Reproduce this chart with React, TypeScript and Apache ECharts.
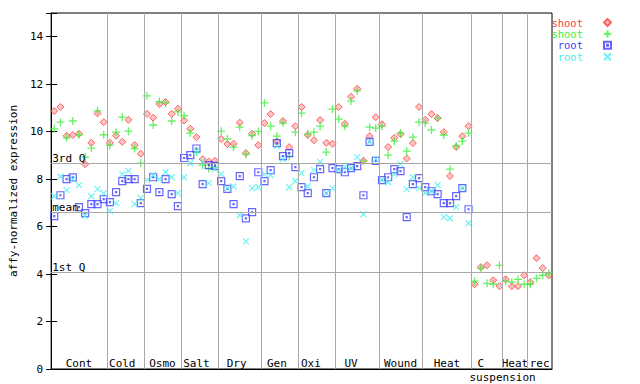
import React, { useEffect, useRef } from 'react';
import * as echarts from 'echarts';

// ---- data ----
const shootRep1 = [
  10.87, 11.04, 9.83, 9.86, 9.91, 8.63, 9.53, 10.77, 10.40,
  9.53, 9.83, 9.57, 10.50, 9.43, 9.07,
  10.75, 10.59, 11.16, 11.25, 10.75, 10.97,
  10.47, 10.12, 9.77, 8.84, 8.74, 8.77,
  9.69, 9.48, 9.49, 10.38, 9.10, 9.91, 9.43,
  10.36, 10.74, 9.59, 10.45, 9.35, 10.23,
  11.04, 9.86, 9.64, 10.49, 9.53, 9.49,
  11.04, 10.33, 11.47, 11.81, 8.77, 9.81, 10.61,
  10.31, 9.35, 9.74, 9.89, 8.87, 9.52, 11.04,
  10.50, 10.74, 10.57, 9.98, 8.13, 9.35, 9.81, 10.23,
  3.57, 4.29, 4.37, 3.74, 3.49,
  3.78, 3.49, 3.49, 3.95,
  3.66, 4.67, 4.25, 3.95,
];
const shootRep2 = [
  10.12, 10.40, 9.74, 10.45, 9.87, 8.93, 9.31, 10.88, 9.87,
  9.43, 9.98, 10.61, 10.02, 9.29, 8.67,
  11.51, 10.28, 11.26, 11.21, 10.45, 10.83,
  10.67, 9.94, 9.14, 8.59, 8.45, 8.51,
  10.02, 9.69, 9.34, 10.19, 9.05, 9.83, 10.01,
  11.21, 10.23, 9.81, 10.36, 8.96, 9.98,
  10.78, 9.90, 9.98, 10.23, 9.14, 10.95,
  10.53, 10.23, 11.29, 11.72, 8.77, 10.19, 10.15,
  10.23, 9.01, 9.60, 9.94, 9.18, 9.77, 10.40,
  10.36, 10.07, 10.57, 9.86, 8.42, 9.40, 9.60, 9.94,
  3.70, 4.25, 3.61, 3.57, 4.37,
  3.70, 3.66, 3.78, 3.57,
  3.57, 3.82, 3.95, 4.03,
];
const rootRep1 = [
  6.44, 7.32, 8.00, 8.07, 6.82, 6.57, 6.95, 6.95, 7.16,
  7.03, 7.45, 7.92, 8.00, 8.00, 6.99,
  7.59, 8.08, 7.45, 8.00, 7.37, 6.86,
  8.89, 9.01, 9.29, 7.79, 8.59, 8.56,
  7.92, 7.59, 6.95, 8.13, 6.35, 6.61, 8.29,
  7.92, 8.38, 9.52, 8.97, 9.10, 8.51,
  7.66, 7.41, 8.08, 8.42, 7.41, 8.46,
  8.42, 8.29, 8.46, 8.55, 7.32, 9.57, 8.77,
  7.96, 8.08, 8.42, 8.34, 6.40, 7.79, 8.04,
  7.66, 7.49, 7.37, 6.99, 6.99, 7.28, 7.62, 6.73,
];
const rootRep2 = [
  7.28, 8.11, 7.54, 8.00, 7.75, 6.45, 7.28, 7.58, 7.41,
  6.65, 6.99, 8.21, 8.35, 6.95, 7.21,
  7.97, 8.17, 8.00, 8.29, 8.08, 7.41,
  8.08, 8.67, 9.19, 8.74, 7.83, 8.42,
  8.21, 7.62, 7.69, 6.48, 5.38, 7.62, 7.66,
  8.21, 8.17, 9.39, 8.84, 7.66, 7.92,
  8.25, 7.70, 8.38, 8.72, 7.41, 7.62,
  8.38, 8.53, 8.46, 8.93, 6.52, 9.57, 8.84,
  7.96, 7.87, 8.21, 8.63, 7.58, 8.08, 7.62,
  7.41, 7.49, 7.75, 6.40, 6.35, 6.82, 7.62, 6.14,
];
const sampleCount = 81;
const groupBounds = [9, 15, 21, 27, 34, 40, 46, 53, 60, 68, 73, 77];
const groupLabelPos = [4.5, 11.5, 18, 23.5, 30, 36.5, 42, 48.5, 56.5, 64, 69.5, 75, 79];
const groupLabels = ['Cont', 'Cold', 'Osmo', 'Salt', 'Dry', 'Gen', 'Oxi', 'UV', 'Wound', 'Heat', 'C', 'Heat', 'rec'];
const subLabelPos = [73];
const subLabels = ['suspension'];
const refNames = ['3rd Q', 'mean', '1st Q'];
const refValues = [8.67, 6.61, 4.08];
const seriesNames = ['shoot1', 'shoot2', 'root1', 'root2'];

const FONT = 'DejaVu Sans Mono';
const RED = '#ff4040';
const GREEN = '#3cf03c';
const BLUE = '#4040ff';
const CYAN = '#48f0f0';

const PLUS = 'path://M4,0L4,8M0,4L8,4';
const SQDOT = 'path://M0,0L7,0L7,7L0,7ZM3,3L4,3L4,4L3,4Z';
const XMARK = 'path://M0,0L6,6M0,6L6,0';

const toPoints = (arr: number[]) => arr.map((v, i) => [i + 0.5, v]);

export default function App() {
  const ref = useRef<HTMLDivElement>(null);
  useEffect(() => {
    if (!ref.current) return;
    const chart = echarts.init(ref.current, null, { renderer: 'svg' });
    const labelMap: Record<string, string> = {};
    groupLabelPos.forEach((p, i) => (labelMap[String(p)] = groupLabels[i]));
    const subMap: Record<string, string> = {};
    subLabelPos.forEach((p, i) => (subMap[String(p)] = subLabels[i]));
    const axisFont = { fontFamily: FONT, fontSize: 11, color: '#000' };

    chart.setOption({
      animation: false,
      backgroundColor: '#fff',
      textStyle: { fontFamily: FONT },
      grid: { left: 44, right: 88, top: 13, bottom: 15, show: true, borderColor: '#000', borderWidth: 1 },
      xAxis: [
        {
          type: 'value', min: 0, max: sampleCount, interval: 0.5, position: 'bottom',
          axisLine: { show: true, lineStyle: { color: '#000', width: 1 } },
          axisTick: { show: false }, splitLine: { show: false },
          axisLabel: { ...axisFont, inside: true, margin: 0, lineHeight: 12, formatter: (v: number) => labelMap[String(v)] || '' },
        },
        {
          type: 'value', min: 0, max: sampleCount, interval: 0.5, position: 'bottom',
          axisLine: { show: false }, axisTick: { show: false }, splitLine: { show: false },
          axisLabel: { ...axisFont, margin: 2, lineHeight: 12, formatter: (v: number) => subMap[String(v)] || '' },
        },
      ],
      yAxis: [
        {
          type: 'value', min: 0, max: 15, interval: 2, position: 'left',
          name: 'affy-normalized expression', nameLocation: 'middle', nameGap: 27,
          nameTextStyle: { ...axisFont },
          axisLine: { show: true, lineStyle: { color: '#000', width: 1 } },
          axisTick: { show: true, inside: true, length: 6, lineStyle: { color: '#000' } },
          axisLabel: { ...axisFont, margin: 8, formatter: (v: number) => (v > 14 ? '' : String(v)) },
          splitLine: { show: false },
        },
        {
          type: 'value', min: 0, max: 15, interval: 2, position: 'right',
          axisLine: { show: true, lineStyle: { color: '#000', width: 1 } },
          axisTick: { show: true, inside: true, length: 5, lineStyle: { color: '#000' } },
          axisLabel: { show: false }, splitLine: { show: false },
        },
      ],
      legend: {
        orient: 'vertical', right: 28, top: 17, align: 'right',
        itemWidth: 7, itemHeight: 7, itemGap: 0.4, padding: 0, selectedMode: false,
        formatter: (n: string) => n.replace(/[0-9]/g, ''),
        textStyle: { fontFamily: FONT, fontSize: 10.5, lineHeight: 8, padding: [0, 16, 0, 0] },
        data: [
          { name: 'shoot1', textStyle: { color: RED } },
          { name: 'shoot2', textStyle: { color: GREEN } },
          { name: 'root1', textStyle: { color: BLUE } },
          { name: 'root2', textStyle: { color: CYAN } },
        ],
      },
      series: [
        {
          name: 'refs', type: 'scatter', data: [], z: 1, silent: true,
          markLine: {
            silent: true, symbol: ['none', 'none'], animation: false,
            lineStyle: { color: '#a8a8a8', width: 1, type: 'solid' },
            emphasis: { disabled: true },
            label: { show: true, position: 'insideStartTop', formatter: '{b}', color: '#000', fontFamily: FONT, fontSize: 11, distance: [1, -1] },
            data: [
              ...refValues.map((v, i) => ({ name: refNames[i], yAxis: v })),
              ...groupBounds.map((b) => ({ name: '', xAxis: b, label: { show: false } })),
            ],
          },
        },
        {
          name: seriesNames[0], type: 'scatter', z: 3, symbol: 'diamond', symbolSize: 7,
          itemStyle: { color: 'rgba(255,90,90,0.45)', borderColor: RED, borderWidth: 1 },
          emphasis: { disabled: true }, data: toPoints(shootRep1),
        },
        {
          name: seriesNames[1], type: 'scatter', z: 3, symbol: PLUS, symbolSize: 8,
          itemStyle: { color: 'rgba(0,0,0,0)', borderColor: GREEN, borderWidth: 1.3 },
          emphasis: { disabled: true }, data: toPoints(shootRep2),
        },
        {
          name: seriesNames[2], type: 'scatter', z: 3, symbol: SQDOT, symbolSize: 7,
          itemStyle: { color: 'rgba(0,0,0,0)', borderColor: BLUE, borderWidth: 1.2 },
          emphasis: { disabled: true }, data: toPoints(rootRep1),
        },
        {
          name: seriesNames[3], type: 'scatter', z: 3, symbol: XMARK, symbolSize: 6,
          itemStyle: { color: 'rgba(0,0,0,0)', borderColor: CYAN, borderWidth: 1.2 },
          emphasis: { disabled: true }, data: toPoints(rootRep2),
        },
      ],
    });
    return () => chart.dispose();
  }, []);
  return <div ref={ref} style={{ position: 'fixed', left: 0, top: 0, width: 640, height: 384 }} />;
}
